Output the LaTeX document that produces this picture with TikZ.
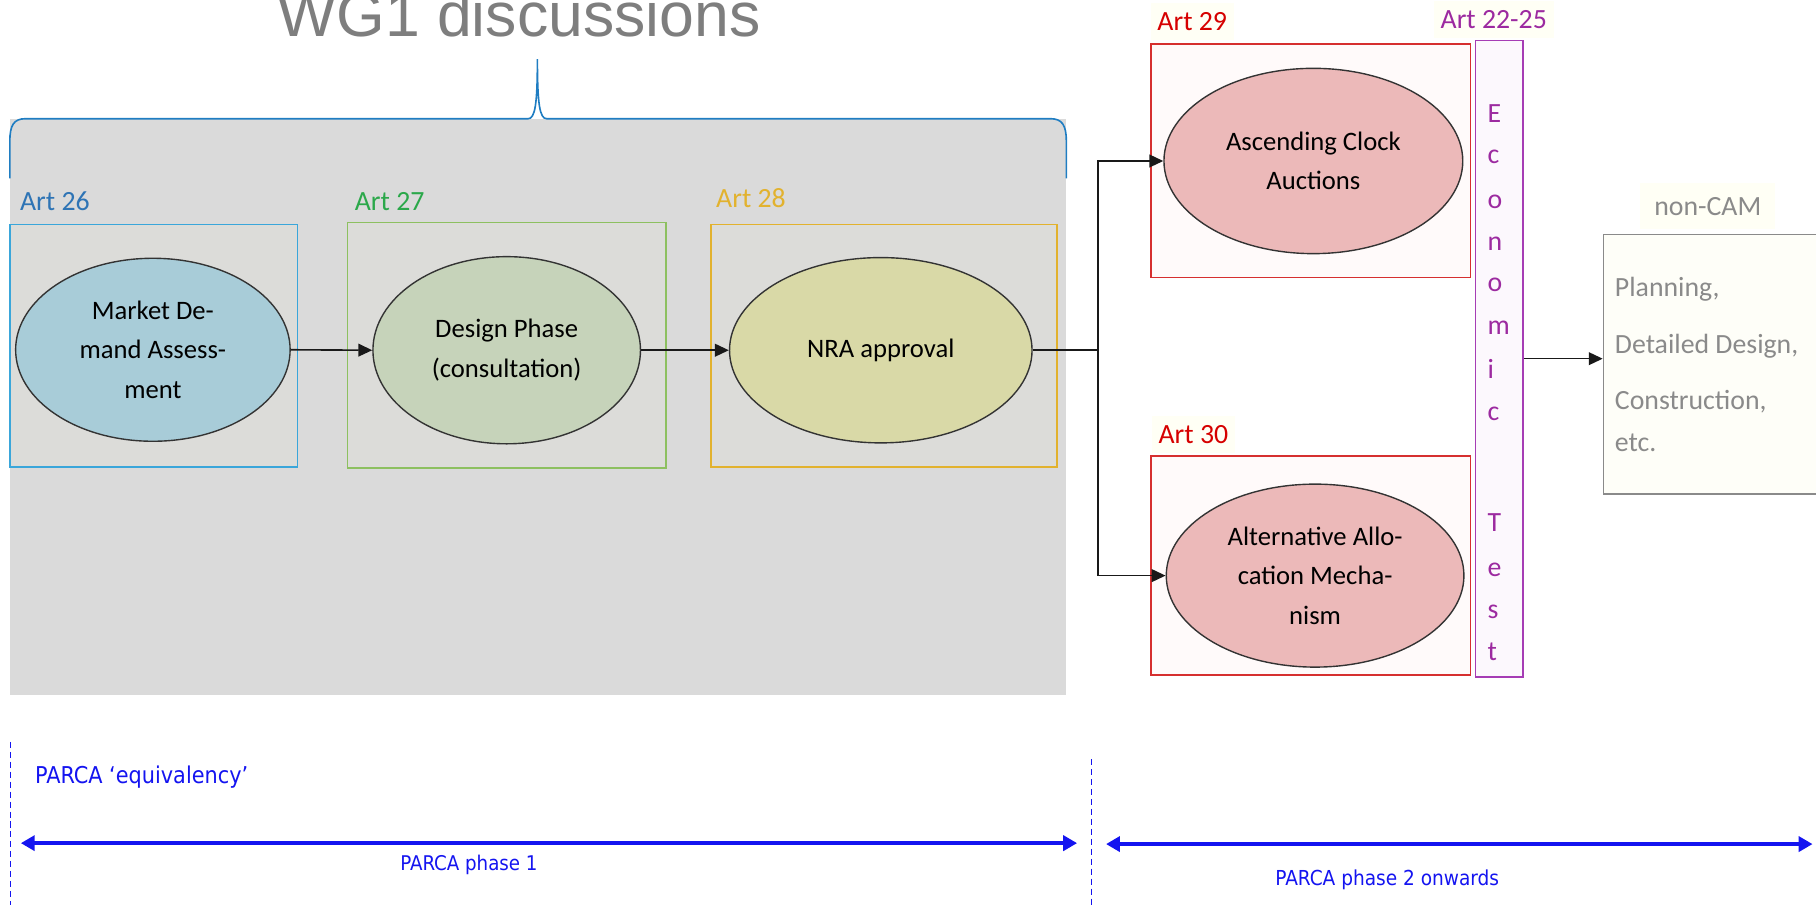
\documentclass[tikz,border=0pt]{standalone}
\usepackage{fontspec}
\setmainfont{Carlito}
\newfontfamily\titlefont{Liberation Sans}
\newfontfamily\tahfont{DejaVu Sans Condensed}
\usetikzlibrary{arrows.meta,shapes.geometric}

\definecolor{bggray}{HTML}{DADADA}
\definecolor{boxgray}{HTML}{DCDCD9}
\definecolor{bracebl}{HTML}{1F7DC2}
\definecolor{titlegray}{HTML}{7E7E7E}
\definecolor{a26txt}{HTML}{2E74B5}
\definecolor{a26line}{HTML}{3AA6DA}
\definecolor{a27txt}{HTML}{2BA84A}
\definecolor{a27line}{HTML}{8DC060}
\definecolor{a28c}{HTML}{E2B22E}
\definecolor{redtxt}{HTML}{D60000}
\definecolor{redline}{HTML}{D62F2F}
\definecolor{redfill}{HTML}{FFFAFA}
\definecolor{purp}{HTML}{9C2AA0}
\definecolor{purpline}{HTML}{A63DB5}
\definecolor{purpfill}{HTML}{FCF8FD}
\definecolor{e1fill}{HTML}{A8CCD8}
\definecolor{e2fill}{HTML}{C6D3BA}
\definecolor{e3fill}{HTML}{D9D9A7}
\definecolor{e45fill}{HTML}{ECB9B9}
\definecolor{ncgray}{HTML}{8A8A8A}
\definecolor{ncfill}{HTML}{FEFEF8}
\definecolor{phaseblue}{HTML}{1414F0}
\definecolor{labelbg}{HTML}{FFFFF5}

\tikzset{
  artbox/.style={draw, rectangle, inner sep=0pt, line width=0.7pt},
  ell/.style={ellipse, draw=black!80, line width=0.6pt, inner sep=0pt,
    align=center, font=\fontsize{11.5}{17}\selectfont},
  artlabel/.style={anchor=base west, inner sep=0pt, font=\fontsize{12}{14}\selectfont},
  conn/.style={draw=black!90, line width=0.7pt},
  connarrow/.style={conn, -{Triangle[length=6pt,width=5.5pt]}},
  phase/.style={draw=phaseblue, line width=1.7pt,
    {Triangle[length=6pt,width=6.5pt]}-{Triangle[length=6pt,width=6.5pt]}},
  phaselim/.style={draw=phaseblue, line width=0.5pt, dash pattern=on 2.6pt off 1.7pt},
  econletter/.style={anchor=base west, inner sep=0pt, text=purp,
    font=\fontsize{12}{14}\selectfont},
  nctext/.style={anchor=base west, inner sep=0pt, text=ncgray,
    font=\fontsize{12}{14}\selectfont},
  parca/.style={anchor=base west, inner sep=0pt, text=phaseblue},
}

\begin{document}
\begin{tikzpicture}[x=0.5pt,y=-0.5pt]
\clip (0,0) rectangle (1568,781);
\useasboundingbox (0,0) rectangle (1568,781);

% grey area covered by the working group
\fill[bggray] (8.5,102.5) rectangle (920.7,600);

% title and curly brace
\node[anchor=base, inner sep=0pt, text=titlegray,
      font=\titlefont\fontsize{27}{30}\selectfont] (title) at (448,31.7) {WG1 discussions};
\draw[bracebl, line width=0.7pt]
  (8.5,154) -- (8.5,122) .. controls (8.5,108) and (12,102.5) .. (22,102.5)
  -- (456,102.5) .. controls (462,102.5) and (464,90) .. (464,51)
  .. controls (464,90) and (466,102.5) .. (472,102.5)
  -- (907,102.5) .. controls (917,102.5) and (920.7,108) .. (920.7,122) -- (920.7,154);

% article boxes
\node[artbox, draw=a26line, fill=boxgray, minimum width=124.25pt, minimum height=104.5pt] (b26) at (132.75,298.5) {};
\node[artbox, draw=a27line, fill=boxgray, minimum width=137.5pt, minimum height=106pt] (b27) at (437.5,298) {};
\node[artbox, draw=a28c, fill=boxgray, minimum width=149.4pt, minimum height=104.5pt] (b28) at (763.1,298.5) {};
\node[artbox, draw=redline, fill=redfill, minimum width=137.8pt, minimum height=100.75pt] (b29) at (1131.8,139) {};
\node[artbox, draw=redline, fill=redfill, minimum width=137.8pt, minimum height=94.75pt] (b30) at (1131.8,488.25) {};
\node[artbox, draw=purpline, fill=purpfill, minimum width=20.5pt, minimum height=274.6pt] (econ) at (1294.5,309.7) {};
\node[artbox, draw=ncgray, fill=ncfill, minimum width=97.75pt, minimum height=112.1pt] (noncam) at (1482.25,314.5) {};

% article labels
\node[artlabel, text=a26txt] (l26) at (17,182) {Art 26};
\node[artlabel, text=a27txt] (l27) at (306,182) {Art 27};
\node[artlabel, text=a28c] (l28) at (618,179) {Art 28};
\node[artlabel, text=redtxt, fill=labelbg, inner xsep=3pt, inner ysep=4pt] (l29) at (993,26) {Art 29};
\node[artlabel, text=purp, fill=labelbg, inner xsep=3pt, inner ysep=4pt] (l2225) at (1237.5,24.5) {Art 22-25};
\node[artlabel, text=redtxt, fill=labelbg, inner xsep=3pt, inner ysep=4pt] (l30) at (994,382.6) {Art 30};
\node[artlabel, text=ncgray, fill=labelbg, inner xsep=6pt, inner ysep=6pt] (lnc) at (1416,185.7) {non-CAM};

% process steps
\node[ell, fill=e1fill, minimum width=118.5pt, minimum height=79pt] (e1) at (132,302) {Market De-\\mand Assess-\\ment};
\node[ell, fill=e2fill, minimum width=115.5pt, minimum height=80.8pt] (e2) at (437.5,302.4) {Design Phase\\(consultation)};
\node[ell, fill=e3fill, minimum width=130.6pt, minimum height=80pt] (e3) at (760.5,302.4) {NRA approval};
\node[ell, fill=e45fill, minimum width=129pt, minimum height=80pt] (e4) at (1134,139) {Ascending Clock\\Auctions};
\node[ell, fill=e45fill, minimum width=128.5pt, minimum height=79pt] (e5) at (1135.5,497) {Alternative Allo-\\cation Mecha-\\nism};

% economic test lettering
\node[econletter] (t1) at (1284,106) {E};
\node[econletter] (t2) at (1284,141) {c};
\node[econletter] (t3) at (1284,179.8) {o};
\node[econletter] (t4) at (1284,216) {n};
\node[econletter] (t5) at (1284,252) {o};
\node[econletter] (t6) at (1284,289) {m};
\node[econletter] (t7) at (1284,326.5) {i};
\node[econletter] (t8) at (1284,362.7) {c};
\node[econletter] (t9) at (1284,459) {T};
\node[econletter] (t10) at (1284,498) {e};
\node[econletter] (t11) at (1284,534) {s};
\node[econletter] (t12) at (1284,570) {t};

% non-CAM contents
\node[nctext] (nc1) at (1394,256) {Planning,};
\node[nctext] (nc2) at (1394,305) {Detailed Design,};
\node[nctext] (nc3) at (1394,354) {Construction,};
\node[nctext] (nc4) at (1394,390) {etc.};

% connectors
\draw[connarrow] (e1.east) -- (e2.west);
\draw[connarrow] (e2.east) -- (e3.west);
\coordinate (split) at (948,302.4);
\draw[conn] (e3.east) -- (split);
\draw[connarrow] (split) |- (e4.west);
\draw[connarrow] (split) |- (e5.west);
\draw[connarrow] (econ.east) -- (econ.east -| noncam.west);

% PARCA phases
\coordinate (d1t) at (9,640.5);
\coordinate (d1b) at (9,781);
\coordinate (d2t) at (942.5,655.5);
\coordinate (d2b) at (942.5,781);
\draw[phaselim] (d1t) -- (d1b);
\draw[phaselim] (d2t) -- (d2b);
\coordinate (p1l) at (18,728);
\coordinate (p1r) at (930,728);
\coordinate (p2l) at (955,728.8);
\coordinate (p2r) at (1565,728.8);
\draw[phase] (p1l) -- (p1r);
\draw[phase] (p2l) -- (p2r);
\node[parca, font=\tahfont\fontsize{10}{12}\selectfont] (peq) at (30,676.4) {PARCA ‘equivalency’};
\node[parca, font=\tahfont\fontsize{8.75}{10}\selectfont] (ph1) at (345.3,751.3) {PARCA phase 1};
\node[parca, font=\tahfont\fontsize{8.9}{10}\selectfont] (ph2) at (1100.8,764.2) {PARCA phase 2 onwards};
\end{tikzpicture}
\end{document}
